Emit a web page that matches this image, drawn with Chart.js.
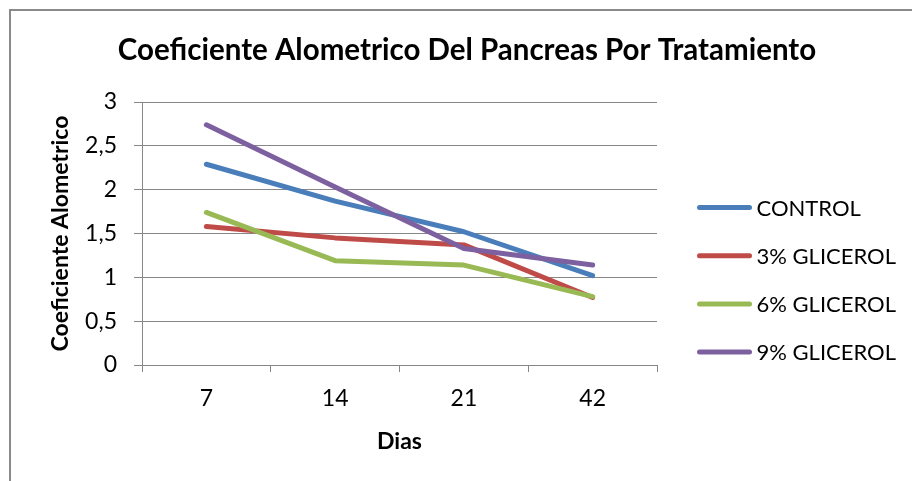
<!DOCTYPE html>
<html>
<head>
<meta charset="utf-8">
<script src="https://cdn.jsdelivr.net/npm/chart.js@4"></script>
<style>
  html, body { margin: 0; padding: 0; background: #fff; overflow: hidden; }
  #wrap { position: relative; width: 912px; height: 481px; }
  #frame { position: absolute; left: 9px; top: 9px; width: 930px; height: 490px;
           border: 2px solid #8a8a8a; box-sizing: border-box; pointer-events: none; }
  canvas { position: absolute; left: 0; top: 0; }
</style>
</head>
<body>
<div id="wrap">
  <canvas id="chart" width="912" height="481"></canvas>
  <div id="frame"></div>
</div>
<script>
// Days of sampling
const dias = ['7', '14', '21', '42'];

// Allometric coefficient of the pancreas per treatment
const control    = [2.29, 1.87, 1.52, 1.02];
const glicerol3  = [1.58, 1.45, 1.37, 0.77];
const glicerol6  = [1.74, 1.19, 1.14, 0.78];
const glicerol9  = [2.74, 2.03, 1.33, 1.14];

const seriesNames = ['CONTROL', '3% GLICEROL', '6% GLICEROL', '9% GLICEROL'];
const seriesColors = ['#4A7EBB', '#BE4B48', '#98B954', '#7D60A0'];

// Value-axis labels (decimal comma)
const yTickLabels = ['0', '0,5', '1', '1,5', '2', '2,5', '3'];

const chartTitle = 'Coeficiente Alometrico Del Pancreas Por Tratamiento';
const yTitle = 'Coeficiente Alometrico';
const xTitle = 'Dias';

const FONT = 'Lato, "Open Sans", sans-serif';
const gridColor = '#878787';

const seriesValues = [control, glicerol3, glicerol6, glicerol9];

const datasets = seriesValues.map((vals, i) => ({
  label: seriesNames[i],
  data: vals,
  borderColor: seriesColors[i],
  backgroundColor: seriesColors[i],
  borderWidth: 5,
  borderCapStyle: 'round',
  borderJoinStyle: 'round',
  pointRadius: 0,
  pointHoverRadius: 0,
  tension: 0,
  fill: false,
  order: seriesValues.length - i   // later series painted on top
}));

// Chart heading and line key on the right side
const headingAndKey = {
  id: 'headingAndKey',
  afterDraw(chart) {
    const ctx = chart.ctx;
    const area = chart.chartArea;
    ctx.save();
    ctx.fillStyle = '#000';
    ctx.textBaseline = 'middle';
    ctx.textAlign = 'center';
    ctx.font = 'bold 29.5px ' + FONT;
    ctx.fillText(chartTitle, 467, 50);

    ctx.font = '22px ' + FONT;
    ctx.textAlign = 'left';
    const x0 = area.right + 42.5;
    const lineLen = 50;
    chart.data.datasets.forEach((ds, i) => {
      const y = 207.5 + i * 48.2;
      ctx.strokeStyle = ds.borderColor;
      ctx.lineWidth = 5;
      ctx.lineCap = 'round';
      ctx.beginPath();
      ctx.moveTo(x0, y);
      ctx.lineTo(x0 + lineLen, y);
      ctx.stroke();
      ctx.fillStyle = '#000';
      ctx.fillText(ds.label, x0 + lineLen + 7, y + 1);
    });
    ctx.restore();
  }
};

new Chart(document.getElementById('chart'), {
  type: 'line',
  data: { labels: dias, datasets },
  options: {
    responsive: false,
    animation: false,
    events: [],
    layout: { padding: { left: 10, top: 102, right: 255, bottom: 0 } },
    plugins: {
      legend: { display: false },
      title: { display: false },
      tooltip: { enabled: false }
    },
    scales: {
      x: {
        offset: true,
        grid: {
          offset: true,
          drawOnChartArea: false,
          drawTicks: true,
          tickLength: 7,
          color: gridColor,
          lineWidth: 1
        },
        border: { color: gridColor, width: 1 },
        ticks: { color: '#000', font: { family: FONT, size: 23 }, padding: 13 },
        title: {
          display: true, text: xTitle, color: '#000',
          font: { family: FONT, size: 23, weight: 'bold' },
          padding: { top: 0, bottom: 26 }
        },
        afterFit(scale) { scale.height = 116; }
      },
      y: {
        min: 0,
        max: 3,
        grid: { color: gridColor, lineWidth: 1, tickLength: 8 },
        border: { color: gridColor, width: 1 },
        ticks: {
          stepSize: 0.5,
          color: '#000',
          font: { family: FONT, size: 23 },
          padding: 17,
          callback: (v, i) => yTickLabels[i]
        },
        title: {
          display: true, text: yTitle, color: '#000',
          font: { family: FONT, size: 23, weight: 'bold' },
          padding: { top: 37, bottom: 0 }
        },
        afterFit(scale) { scale.width = 132; }
      }
    }
  },
  plugins: [headingAndKey]
});
</script>
</body>
</html>
